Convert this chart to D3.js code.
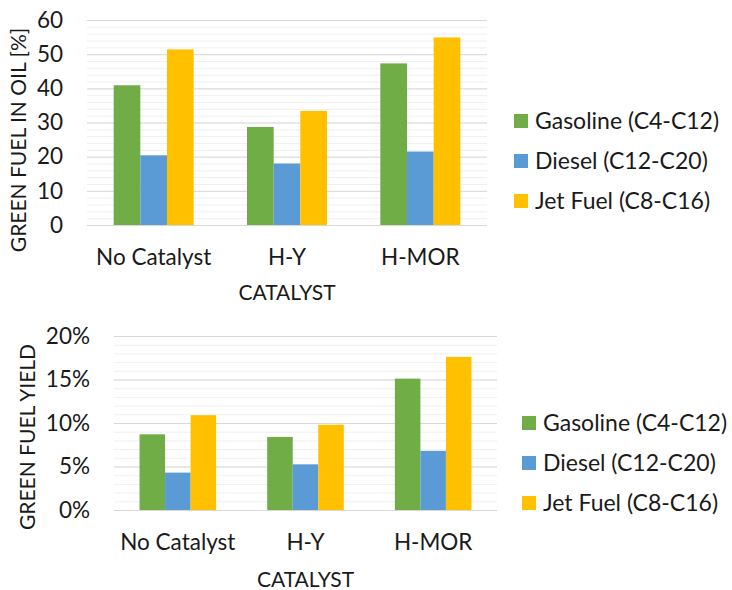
<!DOCTYPE html>
<html>
<head>
<meta charset="utf-8">
<script src="https://cdn.jsdelivr.net/npm/d3@7"></script>
<style>
  body { margin: 0; background: #fff; }
  text { font-family: Lato, "Open Sans", sans-serif; fill: #1a1a1a; }
</style>
</head>
<body>
<div id="chart"></div>
<script>
const width = 732;
const height = 590;

const catalysts = ["No Catalyst", "H-Y", "H-MOR"];
const fuels = ["Gasoline (C4-C12)", "Diesel (C12-C20)", "Jet Fuel (C8-C16)"];
const fuelColors = ["#70ad47", "#5b9bd5", "#ffc000"];

// green fuel in oil [%]
const oilGasoline = [40.9, 28.7, 47.3];
const oilDiesel = [20.4, 18.0, 21.5];
const oilJet = [51.4, 33.4, 54.9];
const oilTicks = [0, 10, 20, 30, 40, 50, 60];

// green fuel yield (fraction)
const yieldGasoline = [0.087, 0.084, 0.151];
const yieldDiesel = [0.043, 0.0525, 0.068];
const yieldJet = [0.109, 0.098, 0.176];
const yieldTicks = [0, 0.05, 0.10, 0.15, 0.20];

const svg = d3.select("#chart").append("svg")
    .attr("width", width)
    .attr("height", height);

function drawChart(opt) {
    const g = svg.append("g");
    const series = [opt.gasoline, opt.diesel, opt.jet];

    const x = d3.scaleBand().domain(catalysts).range([opt.left, opt.right]).paddingInner(0.4).paddingOuter(0.2);
    const xs = d3.scaleBand().domain(fuels).range([0, x.bandwidth()]);
    const y = d3.scaleLinear().domain([0, opt.max]).range([opt.bottom, opt.top]);

    // minor grid
    g.append("g")
      .selectAll("line")
      .data(d3.range(0, opt.max + opt.minor / 2, opt.minor))
      .join("line")
        .attr("x1", opt.left).attr("x2", opt.right)
        .attr("y1", d => y(d) + 0.5).attr("y2", d => y(d) + 0.5)
        .style("stroke", "#f0f0f0")
        .style("stroke-width", "1px");

    // major grid
    g.append("g")
      .selectAll("line")
      .data(opt.ticks)
      .join("line")
        .attr("x1", opt.left).attr("x2", opt.right)
        .attr("y1", d => y(d) + 0.5).attr("y2", d => y(d) + 0.5)
        .style("stroke", "#d9d9d9")
        .style("stroke-width", "1px");

    // bars
    fuels.forEach((f, i) => {
        g.append("g")
          .selectAll("rect")
          .data(series[i])
          .join("rect")
            .attr("x", (d, j) => x(catalysts[j]) + xs(f))
            .attr("y", d => y(d))
            .attr("width", xs.bandwidth())
            .attr("height", d => y(0) - y(d))
            .style("fill", fuelColors[i]);
    });

    // y axis labels
    const yAxis = g.append("g")
        .attr("transform", `translate(${opt.left},0)`)
        .call(d3.axisLeft(y).tickValues(opt.ticks).tickFormat(opt.format).tickSize(0).tickPadding(24));
    yAxis.select(".domain").remove();
    yAxis.selectAll("text")
        .style("font-family", "Lato, sans-serif")
        .style("font-size", "22.5px")
        .style("fill", "#1a1a1a");

    // x axis labels
    const xAxis = g.append("g")
        .attr("transform", `translate(0,${opt.bottom})`)
        .call(d3.axisBottom(x).tickSize(0).tickPadding(0));
    xAxis.select(".domain").remove();
    xAxis.selectAll("text")
        .attr("dy", null)
        .attr("y", opt.xLabelY - opt.bottom)
        .style("font-family", "Lato, sans-serif")
        .style("font-size", "22.5px")
        .style("fill", "#1a1a1a");

    // axis titles
    g.append("text")
        .attr("x", (opt.left + opt.right) / 2)
        .attr("y", opt.xTitleY)
        .attr("text-anchor", "middle")
        .style("font-size", "21px")
        .text("CATALYST");

    g.append("text")
        .attr("transform", `translate(${opt.yTitleX},${opt.yTitleY}) rotate(-90)`)
        .attr("text-anchor", "middle")
        .attr("dy", "0.35em")
        .style("font-size", "21px")
        .text(opt.yTitle);

    // legend
    const legend = g.append("g")
      .selectAll("g")
      .data(fuels)
      .join("g")
        .attr("transform", (d, i) => `translate(${opt.legendX},${opt.legendY + i * 40})`);
    legend.append("rect")
        .attr("x", 0).attr("y", -7)
        .attr("width", 14).attr("height", 14)
        .style("fill", (d, i) => fuelColors[i]);
    legend.append("text")
        .attr("x", 21)
        .attr("dy", "0.35em")
        .style("font-size", "23px")
        .text(d => d);
}

drawChart({
    gasoline: oilGasoline, diesel: oilDiesel, jet: oilJet,
    ticks: oilTicks, max: 60, minor: 2, format: d3.format("d"),
    left: 87, right: 487, top: 20, bottom: 225,
    xLabelY: 265, xTitleY: 300,
    yTitle: "GREEN FUEL IN OIL [%]", yTitleX: 19, yTitleY: 140,
    legendX: 514, legendY: 121
});

drawChart({
    gasoline: yieldGasoline, diesel: yieldDiesel, jet: yieldJet,
    ticks: yieldTicks, max: 0.20, minor: 0.01, format: d3.format(".0%"),
    left: 114, right: 497, top: 336, bottom: 510,
    xLabelY: 550, xTitleY: 587,
    yTitle: "GREEN FUEL YIELD", yTitleX: 28, yTitleY: 437,
    legendX: 522, legendY: 423
});
</script>
</body>
</html>
